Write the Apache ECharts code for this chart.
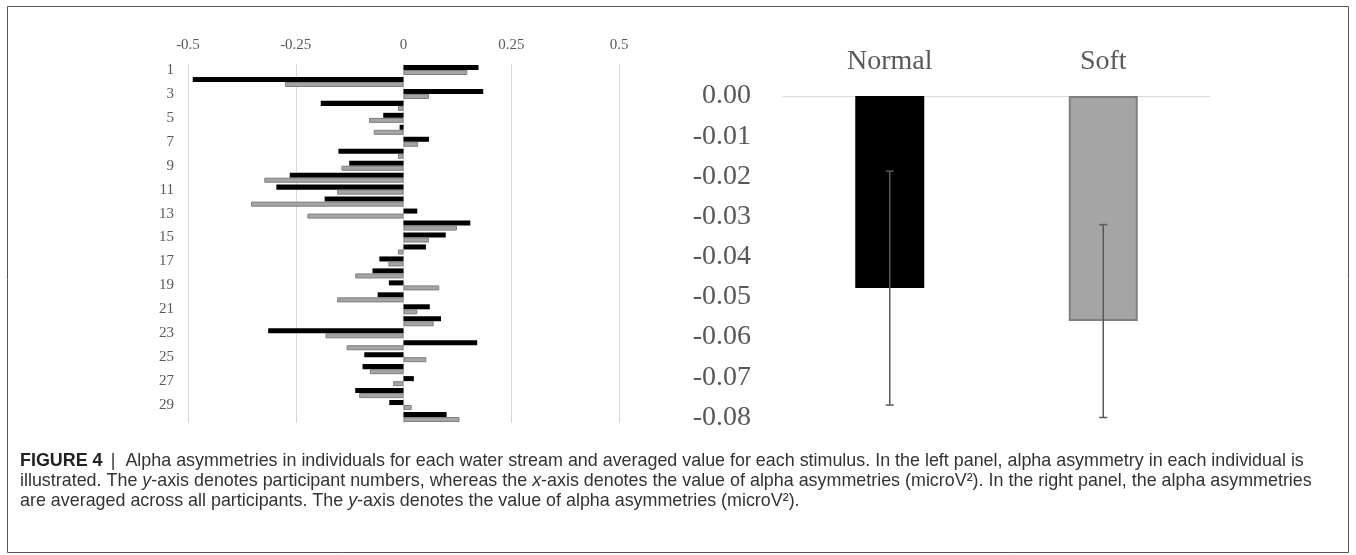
<!DOCTYPE html>
<html><head><meta charset="utf-8">
<script src="https://cdn.jsdelivr.net/npm/echarts@6/dist/echarts.min.js"></script>
<style>html,body{margin:0;padding:0;background:#fff;}#c{width:1356px;height:555px;}</style>
</head><body><div id="c"></div>
<script>
// Left panel: individual alpha asymmetries (participants 1..30)
const participants = Array.from({length: 30}, (_, i) => String(i + 1));
const normalValues = [0.174, -0.489, 0.185, -0.192, -0.047, -0.009, 0.059, -0.151, -0.126, -0.264,
                      -0.295, -0.183, 0.032, 0.155, 0.098, 0.052, -0.056, -0.072, -0.034, -0.060,
                      0.061, 0.087, -0.314, 0.171, -0.091, -0.095, 0.024, -0.112, -0.033, 0.100];
const softValues   = [0.148, -0.275, 0.059, -0.013, -0.080, -0.069, 0.034, -0.013, -0.144, -0.323,
                      -0.154, -0.354, -0.223, 0.124, 0.059, -0.013, -0.035, -0.112, 0.083, -0.154,
                      0.032, 0.070, -0.181, -0.132, 0.053, -0.078, -0.024, -0.103, 0.019, 0.130];
// Right panel: averages with error bars
const stimuli = ['Normal', 'Soft'];
const avgMeans = [-0.0478, -0.0560];
const avgErrors = [0.0291, 0.0240];

const serif = '"Liberation Serif", "Times New Roman", serif';
const axisGray = '#595959';

const chart = echarts.init(document.getElementById('c'), null, {renderer: 'canvas'});

const captionLines = [
  '{b|FIGURE 4} {n| |  Alpha asymmetries in individuals for each water stream and averaged value for each stimulus. In the left panel, alpha asymmetry in each individual is}',
  '{n|illustrated. The }{i|y}{n|-axis denotes participant numbers, whereas the }{i|x}{n|-axis denotes the value of alpha asymmetries (microV²). In the right panel, the alpha asymmetries}',
  '{n|are averaged across all participants. The }{i|y}{n|-axis denotes the value of alpha asymmetries (microV²).}'
];
const capFont = 17.9;
const capFam = '"Liberation Sans", Arial, sans-serif';

chart.setOption({
  animation: false,
  backgroundColor: '#fff',
  grid: [
    {left: 188, top: 64, width: 431, height: 359},
    {left: 783, top: 96, width: 427, height: 321.5}
  ],
  xAxis: [
    {gridIndex: 0, type: 'value', min: -0.5, max: 0.5, interval: 0.25, position: 'top',
     axisLine: {show: false}, axisTick: {show: false},
     splitLine: {show: true, lineStyle: {color: '#d9d9d9', width: 1}},
     axisLabel: {fontFamily: serif, fontSize: 15, color: axisGray, margin: 11}},
    {gridIndex: 1, type: 'category', data: stimuli, position: 'top',
     axisLine: {show: true, onZero: false, lineStyle: {color: '#d9d9d9', width: 1}},
     axisTick: {show: false},
     axisLabel: {fontFamily: serif, fontSize: 28, color: axisGray, margin: 20}}
  ],
  yAxis: [
    {gridIndex: 0, type: 'category', data: participants, inverse: true,
     axisLine: {show: false}, axisTick: {show: false}, splitLine: {show: false},
     axisLabel: {interval: 1, fontFamily: serif, fontSize: 15, color: axisGray, margin: 14}},
    {gridIndex: 1, type: 'value', min: -0.08, max: 0, interval: 0.01,
     axisLine: {show: false}, axisTick: {show: false}, splitLine: {show: false},
     axisLabel: {fontFamily: serif, fontSize: 28, color: axisGray, margin: 32,
                 formatter: v => v.toFixed(2)}}
  ],
  series: [
    {name: 'Normal', type: 'bar', xAxisIndex: 0, yAxisIndex: 0, data: normalValues,
     barGap: '0%', barCategoryGap: '16%', itemStyle: {color: '#000'}},
    {name: 'Soft', type: 'bar', xAxisIndex: 0, yAxisIndex: 0, data: softValues,
     barGap: '0%', barCategoryGap: '16%',
     itemStyle: {color: '#a5a5a5', borderColor: '#7f7f7f', borderWidth: 1}},
    {name: 'Average', type: 'bar', xAxisIndex: 1, yAxisIndex: 1, barWidth: 69,
     data: avgMeans.map((v, i) => ({value: v, itemStyle: i === 0
       ? {color: '#000'} : {color: '#a5a5a5', borderColor: '#7f7f7f', borderWidth: 2}}))},
    {name: 'Error', type: 'custom', xAxisIndex: 1, yAxisIndex: 1, z: 10,
     data: avgMeans.map((m, i) => [i, m + avgErrors[i], m - avgErrors[i]]),
     renderItem: function (params, api) {
       const top = api.coord([api.value(0), api.value(1)]);
       const bot = api.coord([api.value(0), api.value(2)]);
       const cap = 4;
       const st = {stroke: '#595959', lineWidth: 1.5};
       return {type: 'group', children: [
         {type: 'line', shape: {x1: top[0], y1: top[1], x2: bot[0], y2: bot[1]}, style: st},
         {type: 'line', shape: {x1: top[0] - cap, y1: top[1], x2: top[0] + cap, y2: top[1]}, style: st},
         {type: 'line', shape: {x1: bot[0] - cap, y1: bot[1], x2: bot[0] + cap, y2: bot[1]}, style: st}
       ]};
     }}
  ],
  graphic: [
    {type: 'rect', shape: {x: 7.5, y: 6.5, width: 1341, height: 546}, silent: true,
     style: {fill: 'none', stroke: '#555', lineWidth: 1}},
  ].concat(captionLines.map((t, k) => ({
    type: 'text', left: 20, top: 452 + k * 20, silent: true,
    style: {text: t, rich: {
      b: {fontFamily: capFam, fontSize: capFont, fontWeight: 'bold', fill: '#222'},
      n: {fontFamily: capFam, fontSize: capFont, fill: '#333'},
      i: {fontFamily: capFam, fontSize: capFont, fontStyle: 'italic', fill: '#333'}
    }}
  })))
});
</script></body></html>
